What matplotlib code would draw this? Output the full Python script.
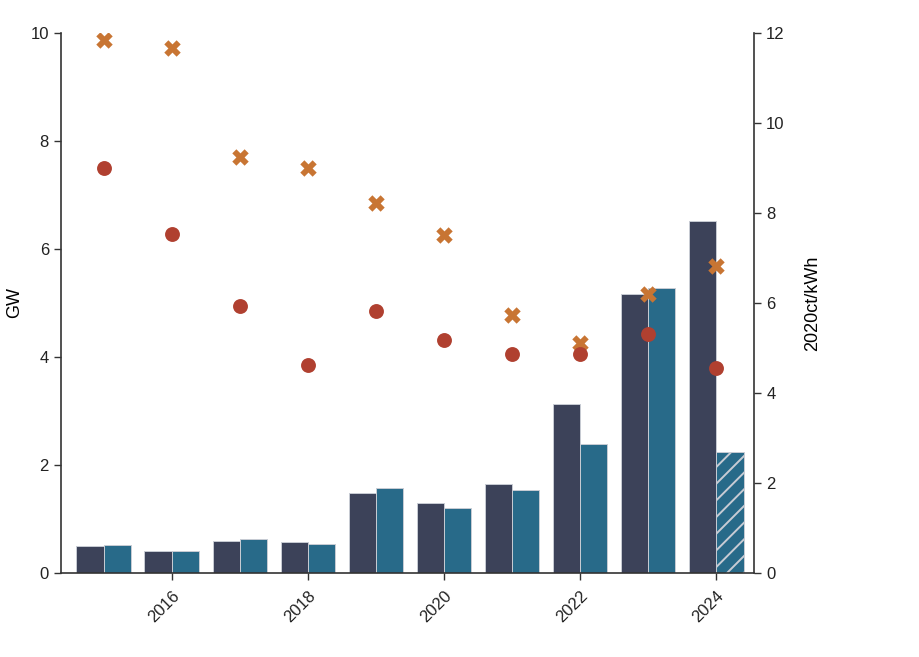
import numpy as np
import matplotlib
matplotlib.use("Agg")
import matplotlib.pyplot as plt

plt.rcParams['font.family'] = ['Liberation Sans', 'DejaVu Sans']
plt.rcParams['hatch.color'] = '#a9c0cd'
plt.rcParams['hatch.linewidth'] = 1.4

years = [2015, 2016, 2017, 2018, 2019, 2020, 2021, 2022, 2023, 2024]
gw_dark = [0.50, 0.40, 0.60, 0.57, 1.48, 1.30, 1.64, 3.12, 5.17, 6.52]
gw_teal = [0.52, 0.40, 0.62, 0.54, 1.58, 1.20, 1.54, 2.38, 5.28, 2.23]
price_x = [11.84, 11.67, 9.24, 9.00, 8.22, 7.51, 5.73, 5.11, 6.20, 6.82]
price_dot = [9.00, 7.53, 5.93, 4.62, 5.82, 5.18, 4.87, 4.87, 5.31, 4.56]

dark = '#3c4259'
teal = '#286a89'
orange = '#c87533'
red = '#b04030'
spine = '#333333'

fig = plt.figure(figsize=(9.2, 6.57), dpi=100)
ax = fig.add_axes([0.066, 0.128, 0.754, 0.822])
ax2 = ax.twinx()

x = np.array(years)
w = 0.4
ax.bar(x - w / 2, gw_dark, width=w, color=dark, edgecolor='#c8ccd4', linewidth=0.7)
bars = ax.bar(x + w / 2, gw_teal, width=w, color=teal, edgecolor='#c8ccd4', linewidth=0.7)
bars[-1].set_hatch('//')

ax2.scatter(x, price_x, marker='X', s=140, color=orange, linewidths=0, zorder=3)
ax2.scatter(x, price_dot, marker='o', s=115, color=red, linewidths=0, zorder=3)

ax.set_xlim(2014.37, 2024.56)
ax.set_ylim(0, 10)
ax2.set_ylim(0, 12)
ax.set_xticks([2016, 2018, 2020, 2022, 2024])
ax.set_yticks([0, 2, 4, 6, 8, 10])
ax2.set_yticks([0, 2, 4, 6, 8, 10, 12])

for label in ax.get_xticklabels():
    label.set_rotation(45)
    label.set_ha('right')
    label.set_rotation_mode('anchor')

ax.set_ylabel('GW', fontsize=13, labelpad=5)
ax2.set_ylabel('2020ct/kWh', fontsize=13, labelpad=14)

for a in (ax, ax2):
    a.spines['top'].set_visible(False)
    for s in ('left', 'right', 'bottom'):
        a.spines[s].set_color(spine)
        a.spines[s].set_linewidth(1.2)
    a.tick_params(colors=spine, labelcolor='#222222', labelsize=12, length=5, width=1)
ax.tick_params(axis='x', pad=6)
ax.spines['right'].set_visible(False)
ax2.spines['left'].set_visible(False)
ax2.spines['bottom'].set_visible(False)

fig.savefig('out.png', dpi=100)
